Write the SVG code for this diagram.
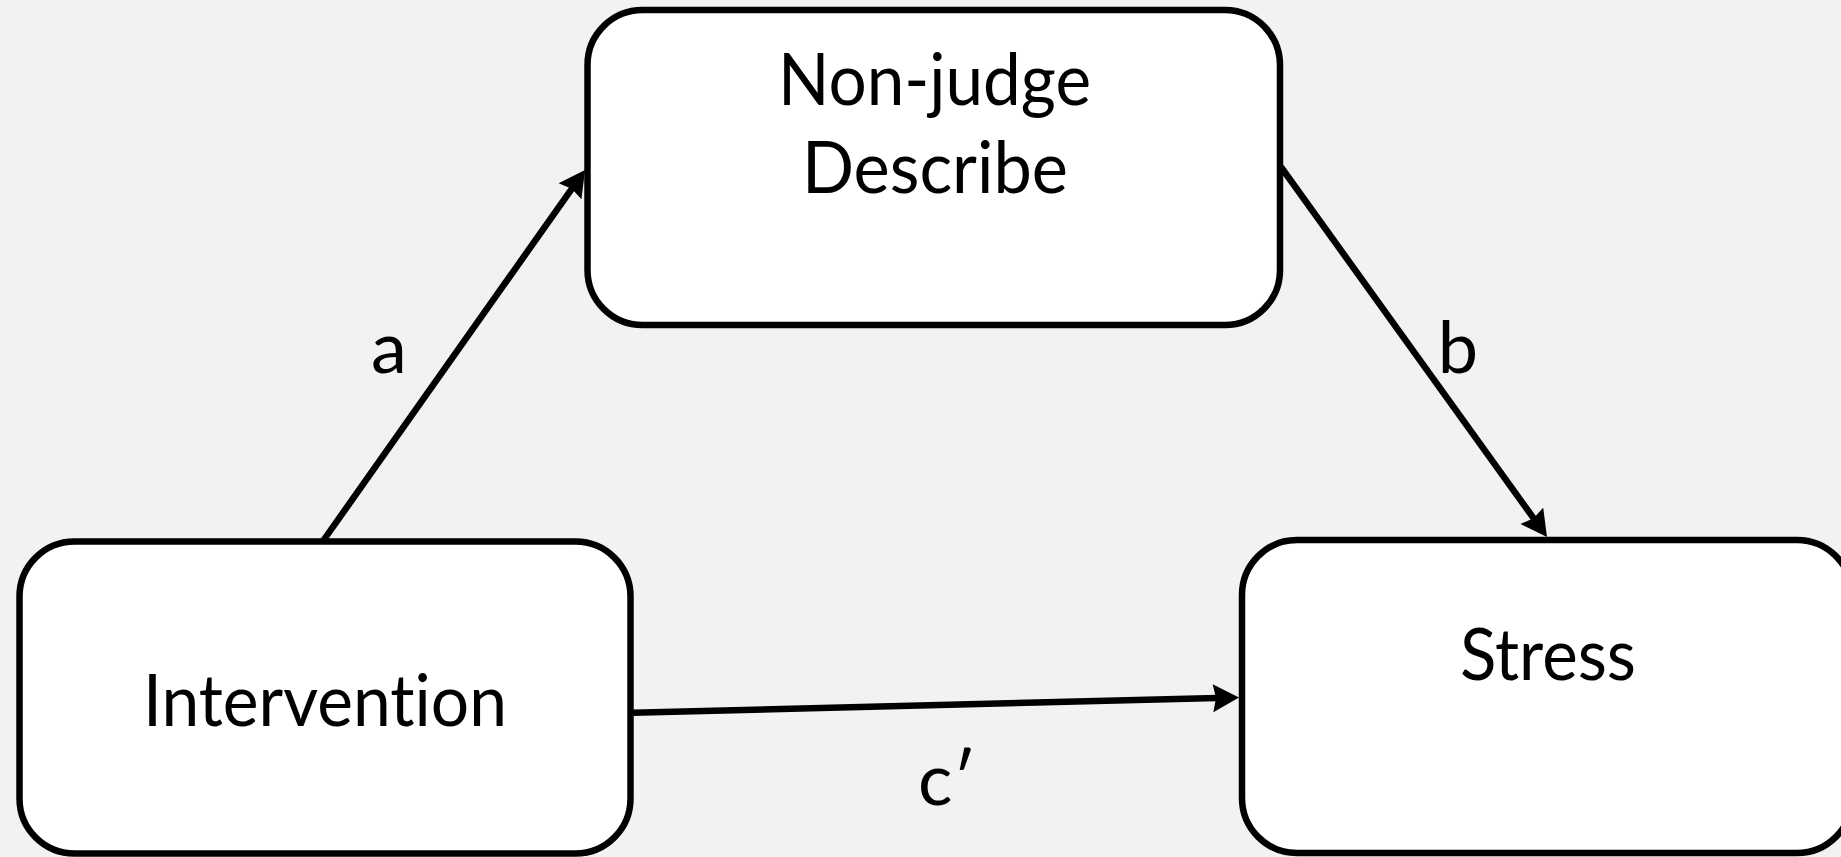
<svg xmlns="http://www.w3.org/2000/svg" width="1841" height="857" viewBox="0 0 1841 857">
<style>
.box{fill:#ffffff;stroke:#000000;stroke-width:6.5}
.lbl{font-family:Lato,"Liberation Sans",sans-serif;font-size:72px;fill:#000000;font-variant-ligatures:none}
.edge{stroke:#000000;stroke-width:6.5;fill:none}
</style>
<defs>
<marker id="arr" markerUnits="userSpaceOnUse" viewBox="-20 -20 40 40" markerWidth="40" markerHeight="40" refX="0" refY="0" orient="auto">
<path d="M12,0 L-14,-14 L-11,0 L-14,14 Z" fill="#000000"/>
</marker>
</defs>
<rect x="0" y="0" width="1841" height="857" fill="#f2f2f2"/>
<g id="connectors">
<line id="edge-a" class="edge" x1="323" y1="541" x2="578.1" y2="179.8" marker-end="url(#arr)"/>
<line id="edge-b" class="edge" x1="1281" y1="167" x2="1540" y2="527.2" marker-end="url(#arr)"/>
<line id="edge-c" class="edge" x1="633" y1="712.7" x2="1227" y2="697.8" marker-end="url(#arr)"/>
<text class="lbl" x="389" y="373" text-anchor="middle">a</text>
<text class="lbl" x="1458" y="373" text-anchor="middle">b</text>
<text class="lbl" x="918" y="805">c′</text>
</g>
<g id="node-mediator">
<rect class="box" x="587.5" y="10" width="692.5" height="315" rx="55" ry="55"/>
<text class="lbl" x="934.5" y="105" text-anchor="middle" textLength="313" lengthAdjust="spacingAndGlyphs">Non-judge</text>
<text class="lbl" x="935" y="193" text-anchor="middle" textLength="266" lengthAdjust="spacingAndGlyphs">Describe</text>
</g>
<g id="node-intervention">
<rect class="box" x="19.5" y="541.5" width="611" height="312" rx="55" ry="55"/>
<text class="lbl" x="325" y="726" text-anchor="middle" textLength="364" lengthAdjust="spacingAndGlyphs">Intervention</text>
</g>
<g id="node-stress">
<rect class="box" x="1242" y="540" width="610" height="313" rx="55" ry="55"/>
<text class="lbl" x="1548" y="680" text-anchor="middle" textLength="176" lengthAdjust="spacingAndGlyphs">Stress</text>
</g>
</svg>
